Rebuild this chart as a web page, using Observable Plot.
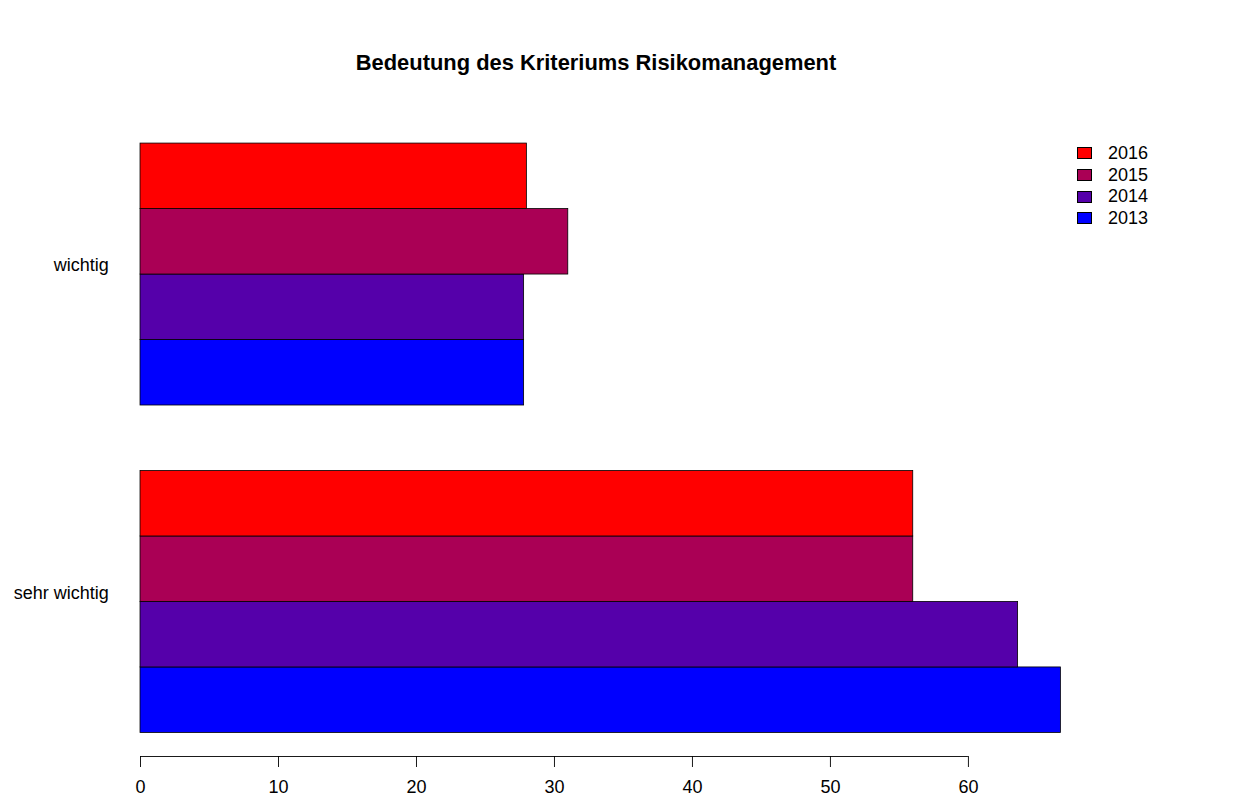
<!DOCTYPE html>
<html>
<head>
<meta charset="utf-8">
<script src="https://cdn.jsdelivr.net/npm/d3@7"></script>
<script src="https://cdn.jsdelivr.net/npm/@observablehq/plot@0.6"></script>
<style>
  body { margin: 0; background: #fff; font-family: "Liberation Sans", Arial, sans-serif; color: #000; }
  #wrap { position: relative; width: 1235px; height: 801px; overflow: hidden; }
  #title { height: 100px; box-sizing: border-box; padding-top: 50px; margin-left: 99px; width: 994px; text-align: center; font-weight: bold; font-size: 21.9px; line-height: 26px; }
  #legend { position: absolute; left: 1077px; top: 142.5px; font-size: 18px; }
  .row { height: 21.7px; display: flex; align-items: center; }
  .sw { width: 13px; height: 10px; border: 0.8px solid #000; margin-right: 16px; }
</style>
</head>
<body>
<div id="wrap">
  <div id="title">Bedeutung des Kriteriums Risikomanagement</div>
  <div id="chart"></div>
  <div id="legend"></div>
</div>
<script>
// ---- data ----
const categories = ["sehr wichtig", "wichtig"];          // bottom to top
const years = ["2013", "2014", "2015", "2016"];           // bottom to top within a group
const values2013 = [66.7, 27.8];
const values2014 = [63.6, 27.8];
const values2015 = [56, 31];
const values2016 = [56, 28];
const yearColors = ["#0000FF", "#5500AA", "#AA0055", "#FF0000"];
const xTicks = [0, 10, 20, 30, 40, 50, 60];

// ---- table ----
const seriesValues = [values2013, values2014, values2015, values2016];
const nYears = years.length;
const rows = [];
categories.forEach((cat, ci) => {
  years.forEach((yr, yi) => {
    const pos = ci * (nYears + 1) + 1 + yi; // one empty slot before each group (like barplot space=c(0,1))
    rows.push({category: cat, year: yr, value: seriesValues[yi][ci], y1: pos, y2: pos + 1});
  });
});

const yMin = d3.min(rows, d => d.y1), yMax = d3.max(rows, d => d.y2);
const yPad = 0.04 * (yMax - yMin);
const xMax = d3.max(rows, d => d.value);
const xPad = 0.04 * xMax;
const groupCenters = categories.map((c, ci) => ci * (nYears + 1) + 1 + nYears / 2);

const chart = Plot.plot({
  width: 1235,
  height: 701,
  marginTop: 19.5,
  marginBottom: 45,
  marginLeft: 103.2,
  marginRight: 137.8,
  style: {fontFamily: "Liberation Sans, Arial, sans-serif", fontSize: "18px", color: "#000", background: "#fff"},
  x: {domain: [-xPad, xMax + xPad]},
  y: {domain: [yMin - yPad, yMax + yPad]},
  color: {domain: years, range: yearColors},
  marks: [
    Plot.rectX(rows, {x1: 0, x2: "value", y1: "y1", y2: "y2", fill: "year", stroke: "#000", strokeWidth: 0.8}),
    Plot.ruleY([yMin - yPad], {x1: d3.min(xTicks), x2: d3.max(xTicks), stroke: "#000", strokeWidth: 0.9}),
    Plot.axisX({ticks: xTicks, tickSize: 11, tickPadding: 13, tickFormat: d => String(d), fontSize: 18, label: null, stroke: "#000", strokeWidth: 0.9}),
    Plot.axisY({ticks: groupCenters, tickSize: 0, tickPadding: -5, dy: -9, fontSize: 18, label: null,
      tickFormat: (d, i) => categories[groupCenters.indexOf(d)]})
  ]
});
document.getElementById("chart").appendChild(chart);

// ---- legend (top to bottom: newest first) ----
const legend = document.getElementById("legend");
years.slice().reverse().forEach(yr => {
  const row = document.createElement("div");
  row.className = "row";
  const sw = document.createElement("div");
  sw.className = "sw";
  sw.style.background = yearColors[years.indexOf(yr)];
  const t = document.createElement("span");
  t.textContent = yr;
  row.appendChild(sw);
  row.appendChild(t);
  legend.appendChild(row);
});
</script>
</body>
</html>
